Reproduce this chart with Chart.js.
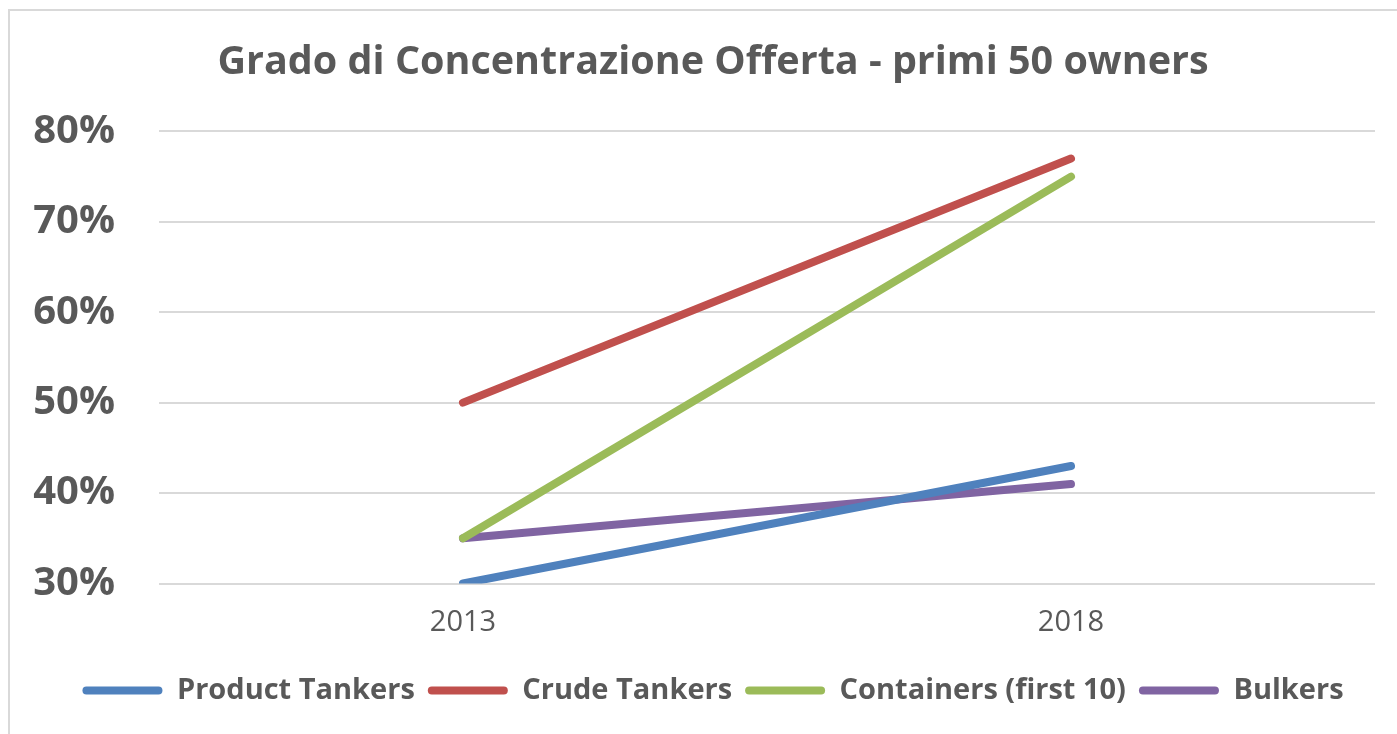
<!DOCTYPE html>
<html>
<head>
<meta charset="utf-8">
<script src="https://cdn.jsdelivr.net/npm/chart.js@4"></script>
<style>
  html, body { margin: 0; padding: 0; background: #fff; }
  canvas { display: block; }
</style>
</head>
<body>
<canvas id="chart" width="1397" height="734"></canvas>
<script>
const years = ['2013', '2018'];
const productTankers = [30, 43];
const crudeTankers = [50, 77];
const containers = [35, 75];
const bulkers = [35, 41];
const yMin = 30;
const yMax = 80;
const yStep = 10;

const textColor = '#595959';

function series(label, values, color) {
    return {
        label: label,
        data: values,
        borderColor: color,
        backgroundColor: color,
        borderWidth: 8,
        borderCapStyle: 'round',
        borderJoinStyle: 'round',
        pointRadius: 0,
        pointHoverRadius: 0,
        tension: 0
    };
}

// light frame around the chart, like the spreadsheet chart area
const frame = {
    id: 'frame',
    beforeDraw(chart) {
        const ctx = chart.ctx;
        ctx.save();
        ctx.fillStyle = '#fff';
        ctx.fillRect(0, 0, chart.width, chart.height);
        ctx.strokeStyle = '#d9d9d9';
        ctx.lineWidth = 2;
        ctx.strokeRect(9, 10, chart.width + 20, chart.height + 20);
        ctx.restore();
    }
};

const config = {
    type: 'line',
    data: {
        labels: years,
        datasets: [
            series('Product Tankers', productTankers, '#4f81bd'),
            series('Crude Tankers', crudeTankers, '#c0504d'),
            series('Containers (first 10)', containers, '#9bbb59'),
            series('Bulkers', bulkers, '#8064a2')
        ]
    },
    options: {
        responsive: false,
        devicePixelRatio: 1,
        animation: false,
        layout: {
            // the original frame runs past the right edge, so title and legend sit right of centre
            padding: { left: 29, right: 0, top: 10, bottom: 19 }
        },
        plugins: {
            title: {
                display: true,
                text: 'Grado di Concentrazione Offerta - primi 50 owners',
                color: textColor,
                font: { family: 'Open Sans', size: 39.5, weight: 'bold' },
                padding: { top: 29, bottom: 45 }
            },
            legend: {
                position: 'bottom',
                labels: {
                    color: textColor,
                    font: { family: 'Open Sans', size: 29, weight: 'bold' },
                    boxWidth: 80,
                    boxHeight: 8,
                    useBorderRadius: true,
                    borderRadius: 4,
                    padding: 13,
                    generateLabels(chart) {
                        const items = Chart.defaults.plugins.legend.labels.generateLabels(chart);
                        items.forEach(it => { it.lineWidth = 0; });
                        return items;
                    }
                }
            },
            tooltip: { enabled: false }
        },
        scales: {
            x: {
                offset: true,
                afterFit(scale) { scale.height = 79.5; },
                grid: { display: false },
                border: { display: false },
                ticks: {
                    color: textColor,
                    font: { family: 'Open Sans', size: 29 },
                    padding: 14
                }
            },
            y: {
                min: yMin,
                max: yMax,
                afterFit(scale) { scale.width = 130; },
                grid: { color: '#d9d9d9', lineWidth: 2, drawTicks: false },
                border: { display: false },
                ticks: {
                    stepSize: yStep,
                    color: textColor,
                    font: { family: 'Open Sans', size: 40, weight: 'bold' },
                    padding: 44,
                    callback: v => v + '%'
                }
            },
            yRight: {
                position: 'right',
                min: yMin,
                max: yMax,
                afterFit(scale) { scale.width = 22; },
                grid: { display: false },
                border: { display: false },
                ticks: { display: false }
            }
        }
    },
    plugins: [frame]
};

const myChart = new Chart(document.getElementById('chart'), config);
</script>
</body>
</html>
